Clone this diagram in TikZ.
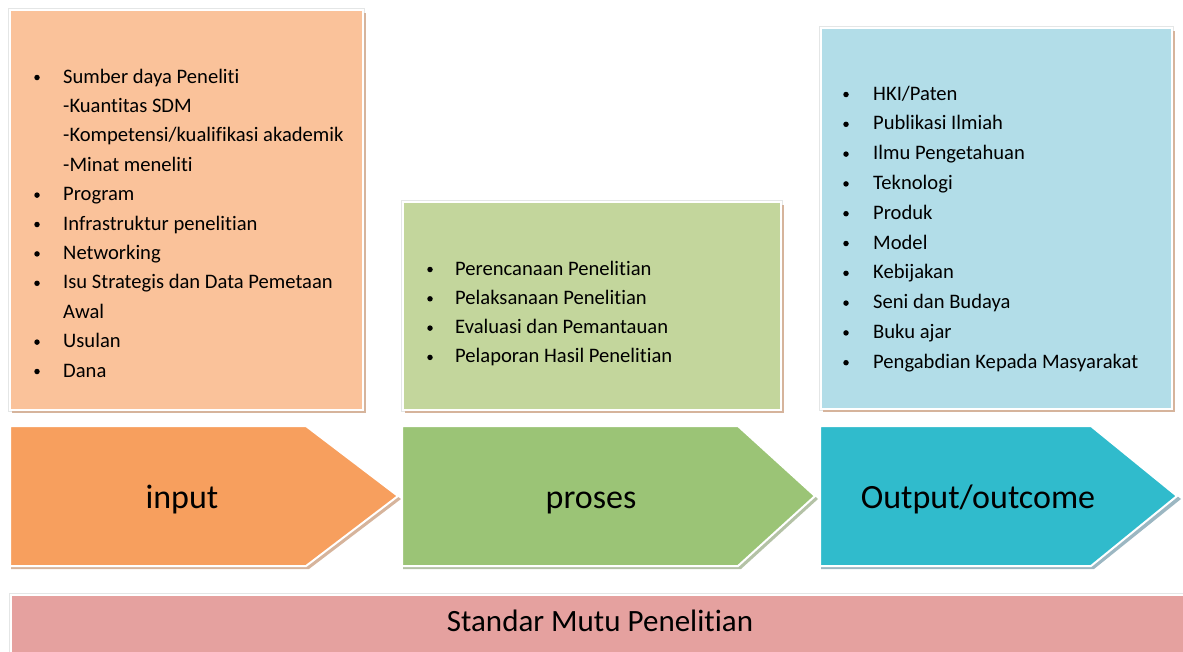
\documentclass[tikz,border=0pt]{standalone}
\usepackage{fontspec}
\setmainfont{Carlito}[Ligatures=NoCommon]

\definecolor{inputbox}{HTML}{FAC29A}
\definecolor{inputarrow}{HTML}{F79F5E}
\definecolor{prosesbox}{HTML}{C3D69C}
\definecolor{prosesarrow}{HTML}{9BC476}
\definecolor{outputbox}{HTML}{B2DDE8}
\definecolor{outputarrow}{HTML}{30BBCC}
\definecolor{standarbar}{HTML}{E5A19F}
\definecolor{shadowbrown}{HTML}{D6B49C}
\definecolor{shadowgreen}{HTML}{B4C2A6}
\definecolor{shadowblue}{HTML}{9CB7C2}
\definecolor{glow}{HTML}{E4E6E6}

\tikzset{
  panel/.style={draw=white, line width=2pt},
  item/.style={anchor=base west, inner sep=0pt, font=\fontsize{20.6}{24}\selectfont},
  dot/.style={circle, fill=black, inner sep=0pt, minimum size=5.5pt},
  biglabel/.style={anchor=base, inner sep=0pt, font=\fontsize{34}{40}\selectfont},
}

\begin{document}
\begin{tikzpicture}[x=1pt,y=-1pt]
    \useasboundingbox (0,0) rectangle (1183,651);

    % panels
    \draw[glow,line width=4pt] (10,10) rectangle (363,410);
    \fill[shadowbrown] (12,13) rectangle (366,413);
    \draw[panel,fill=inputbox] (10,10) rectangle (363,410);

    \draw[glow,line width=4pt] (403,202) rectangle (781,410);
    \fill[shadowbrown] (405,205) rectangle (784,413);
    \draw[panel,fill=prosesbox] (403,202) rectangle (781,410);

    \draw[glow,line width=4pt] (821,28) rectangle (1172,409);
    \fill[shadowbrown] (823,31) rectangle (1175,412);
    \draw[panel,fill=outputbox] (821,28) rectangle (1172,409);

    % lists
    \foreach \k/\t [count=\i from 0] in {1/Sumber daya Peneliti, 0/-Kuantitas SDM,
        0/{-Kompetensi/kualifikasi akademik}, 0/-Minat meneliti, 1/Program,
        1/Infrastruktur penelitian, 1/Networking, 1/Isu Strategis dan Data Pemetaan,
        0/Awal, 1/Usulan, 1/Dana}{
      \node[item] (in\i) at (63,83+29.4*\i) {\t};
      \ifnum\k=1 \node[dot] (bin\i) at (37,77.5+29.4*\i) {}; \fi
    }
    \foreach \t [count=\i from 0] in {Perencanaan Penelitian, Pelaksanaan Penelitian,
        Evaluasi dan Pemantauan, Pelaporan Hasil Penelitian}{
      \node[item] (pr\i) at (455,275+29.3*\i) {\t};
      \node[dot] (bpr\i) at (430,269.5+29.3*\i) {};
    }
    \foreach \t [count=\i from 0] in {{HKI/Paten}, Publikasi Ilmiah, Ilmu Pengetahuan,
        Teknologi, Produk, Model, Kebijakan, Seni dan Budaya, Buku ajar,
        Pengabdian Kepada Masyarakat}{
      \node[item] (out\i) at (873,100+29.8*\i) {\t};
      \node[dot] (bout\i) at (846,94.5+29.8*\i) {};
    }

    % arrows
    \fill[shadowbrown] (11,430)--(309,430)--(401,499)--(309,569)--(11,569)--cycle;
    \draw[panel,fill=inputarrow] (10,426)--(306,426)--(398,496)--(306,566)--(10,566)--cycle;
    \fill[shadowgreen] (403,430)--(741,430)--(818,499)--(741,569)--(403,569)--cycle;
    \draw[panel,fill=prosesarrow] (402,426)--(738,426)--(815,496)--(738,566)--(402,566)--cycle;
    \fill[shadowblue] (821,430)--(1094,430)--(1181,499)--(1094,569)--(821,569)--cycle;
    \draw[panel,fill=outputarrow] (820,426)--(1091,426)--(1177,496)--(1091,566)--(820,566)--cycle;

    \node[biglabel] (input) at (182,508) {input};
    \node[biglabel] (proses) at (591,508) {proses};
    \node[biglabel] (output) at (978,508) {Output/outcome};

    % bottom bar
    \draw[glow,line width=4pt] (11,595) rectangle (1195,665);
    \draw[panel,fill=standarbar] (11,595) rectangle (1195,665);
    \node[biglabel,font=\fontsize{31}{36}\selectfont] (standar) at (600,631) {Standar Mutu Penelitian};
\end{tikzpicture}
\end{document}
